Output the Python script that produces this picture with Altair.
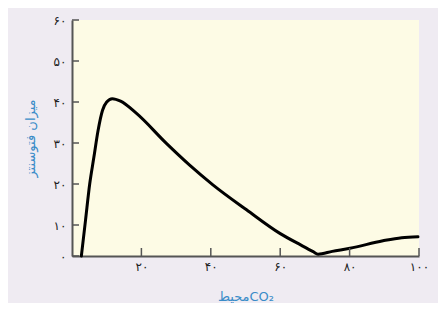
import altair as alt
import pandas as pd

# Curve
co2 = [2.7, 3.9, 5.1, 6.3, 7.5, 8.8, 10.0, 11.6, 14.0, 18.6, 27.2, 33.9, 40.6, 50.3,
       59.9, 66.0, 69.5, 70.9, 75.0, 80.1, 89.6, 95.0, 99.7]
photo = [0, 11.2, 20, 26.5, 33, 38, 40.0, 40.8, 40.2, 37.2, 29.9, 24.6, 19.8, 13.7,
         7.3, 3.5, 1.4, 0.6, 1.5, 2.5, 4.9, 5.9, 6.2]

x_ticks = [20, 40, 60, 80, 100]
y_ticks = [0, 10, 20, 30, 40, 50, 60]

fa_digits = "۰۱۲۳۴۵۶۷۸۹"


def to_fa(n):
    return "".join(fa_digits[int(c)] for c in str(n))


def label_expr(vals):
    expr = "''"
    for v in reversed(vals):
        expr = f"datum.value == {v} ? '{to_fa(v)}' : ({expr})"
    return expr


x_title = "محیطCO₂"
y_title = "میزان فتوسنتز"

W, H = 347, 236

df = pd.DataFrame({"co2": co2, "photo": photo})
xt = pd.DataFrame({"v": x_ticks})
yt = pd.DataFrame({"v": y_ticks})

xscale = alt.Scale(domain=[0, 100], nice=False, zero=True)
yscale = alt.Scale(domain=[0, 10, 60], range=[H, 205, 0], nice=False)

axis_common = dict(
    domainColor="#555555", domainWidth=2, ticks=False,
    labelFont="DejaVu Sans", labelFontSize=12, labelColor="#222222",
    labelOverlap=False, labelFlush=False, labelBound=False,
    titleFont="DejaVu Sans", titleFontSize=13, titleColor="#3a8cc8",
    titleFontWeight="normal", grid=False, tickCount=20,
)

line = alt.Chart(df).mark_line(
    color="black", strokeWidth=3, interpolate="monotone", strokeCap="round"
).encode(
    x=alt.X("co2:Q", scale=xscale,
            axis=alt.Axis(values=x_ticks, labelExpr=label_expr(x_ticks),
                          title=x_title, labelPadding=5, titlePadding=18,
                          **axis_common)),
    y=alt.Y("photo:Q", scale=yscale,
            axis=alt.Axis(values=y_ticks, labelExpr=label_expr(y_ticks),
                          title=y_title, labelPadding=6, titlePadding=16,
                          **axis_common)),
)

xtick = alt.Chart(xt).mark_rule(color="#555555", strokeWidth=1.5).encode(
    x=alt.X("v:Q", scale=xscale),
    y=alt.value(H - 8), y2=alt.value(H),
)

ytick = alt.Chart(yt).mark_rule(color="#555555", strokeWidth=1.5).encode(
    y=alt.Y("v:Q", scale=yscale),
    x=alt.value(0), x2=alt.value(7),
)

chart = alt.layer(line, xtick, ytick).properties(
    width=W, height=H,
    autosize=alt.AutoSizeParams(type="none"),
    padding={"left": 64, "top": 12, "right": 19, "bottom": 47},
    background="#efebf2",
).configure_view(fill="#fdfbe5", stroke=None)

chart.save("out.html", embed_options={"renderer": "svg", "actions": False})
